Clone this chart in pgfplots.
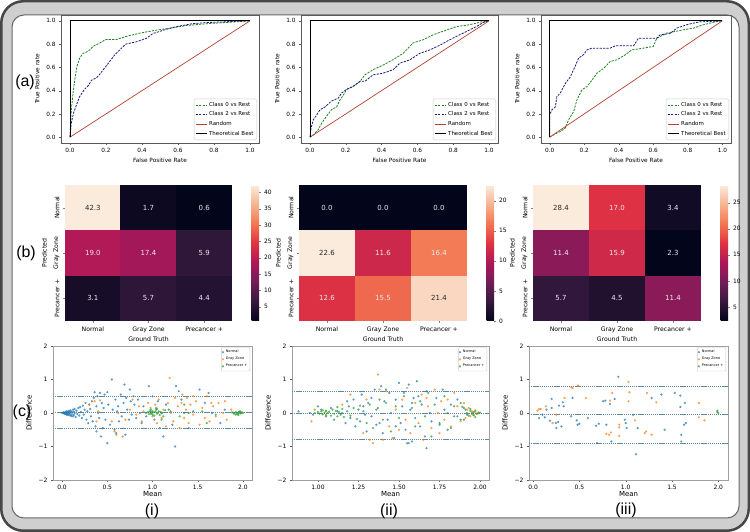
\documentclass[border=0pt]{standalone}
\usepackage{pgfplots}
\pgfplotsset{compat=1.18}
\usepackage{fontspec}
\setmainfont{DejaVu Sans}
\newfontfamily\lab{Liberation Sans}
\newcommand\fs[1]{\fontsize{#1}{#1}\selectfont}
\pgfkeys{/pgf/number format/assume math mode=true}
\definecolor{rocg}{RGB}{30,130,30}
\definecolor{rocb}{RGB}{25,25,125}
\definecolor{rocr}{RGB}{180,65,50}
\definecolor{cA}{RGB}{31,119,180}
\definecolor{cB}{RGB}{255,127,14}
\definecolor{cC}{RGB}{44,160,44}
\definecolor{bal}{RGB}{95,135,160}
\definecolor{spine}{RGB}{90,90,90}
% rocket colours of the cells
\definecolor{haa}{RGB}{24,13,41}
\definecolor{hab}{RGB}{46,22,57}
\definecolor{hac}{RGB}{35,18,49}
\definecolor{had}{RGB}{178,25,87}
\definecolor{hae}{RGB}{162,24,89}
\definecolor{haf}{RGB}{47,23,58}
\definecolor{hmax}{RGB}{250,235,221}
\definecolor{hah}{RGB}{12,9,33}
\definecolor{hmin}{RGB}{3,5,26}
\definecolor{hba}{RGB}{220,48,68}
\definecolor{hbb}{RGB}{239,105,78}
\definecolor{hbc}{RGB}{249,215,192}
\definecolor{hbe}{RGB}{204,40,75}
\definecolor{hbf}{RGB}{243,123,86}
\definecolor{hca}{RGB}{49,23,59}
\definecolor{hcb}{RGB}{33,17,47}
\definecolor{hcc}{RGB}{139,27,88}
\definecolor{hce}{RGB}{207,41,74}
\definecolor{hch}{RGB}{222,49,67}
\definecolor{hci}{RGB}{18,11,37}
\pgfdeclareplotmark{hcell}{\pgfpathrectangle{\pgfqpoint{-28.1bp}{-22.75bp}}{\pgfqpoint{56.2bp}{45.5bp}}\pgfusepathqfill}
\pgfplotsset{
 colormap={rocket}{rgb255(0)=(3,5,26) rgb255(1)=(53,25,62) rgb255(2)=(112,31,87) rgb255(3)=(173,23,89) rgb255(4)=(225,51,66) rgb255(5)=(243,118,81) rgb255(6)=(246,180,143) rgb255(7)=(250,235,221)},
 rocax/.style={scale only axis, height=128bp, anchor=south west,
  xmin=-0.05,xmax=1.05,ymin=-0.05,ymax=1.05,
  xtick={0,0.2,0.4,0.6,0.8,1.0}, ytick={0,0.2,0.4,0.6,0.8,1.0},
  tick label style={font=\fs{5.8}, /pgf/number format/.cd, fixed, fixed zerofill, precision=1, /tikz/.cd},
  label style={font=\fs{5.8}},
  xlabel={False Positive Rate}, ylabel={True Positive rate},
  xlabel style={yshift=2bp},
  tick align=outside, major tick length=2bp, xtick pos=left, ytick pos=left,
  axis line style={spine}, tick style={spine},
  legend style={font=\fs{5.5}, at={(0.99,0.023)}, anchor=south east, draw=gray!40, rounded corners=1.5bp, inner sep=1.2bp, row sep=0bp},
  legend cell align=left,
  legend image code/.code={\draw[##1] (0bp,0bp) -- (11bp,0bp);},
 },
 hm/.style={scale only axis, height=136bp, anchor=south west,
  xmin=-0.5,xmax=2.5,ymin=-0.5,ymax=2.5, axis line style={draw=none},
  xtick={0,1,2}, ytick={0,1,2},
  xticklabels={Normal,Gray Zone,Precancer +}, yticklabels={Precancer +,Gray Zone,Normal},
  yticklabel style={rotate=90,anchor=south},
  tick align=outside, major tick length=2bp, xtick pos=left, ytick pos=left,
  tick label style={font=\fs{6.2}}, label style={font=\fs{6.2}},
  xlabel={Ground Truth}, ylabel={Predicted}, xlabel style={yshift=2.5bp},
  colorbar,
 },
 cbs/.style={at={(parent axis.north east)}, anchor=north west, xshift=11bp, width=7.5bp,
   axis line style={draw=none}, major tick length=1.5bp, tick align=outside,
   yticklabel style={font=\fs{6}}, ytick pos=right, yticklabel pos=right},
 hcl/.style={scatter, only marks, mark=hcell, scatter src=explicit symbolic},
 hmw/.style={draw=none, mark=none, nodes near coords, point meta=explicit symbolic,
   nodes near coords style={anchor=center, font=\fs{7}, text=white!92!black}},
 hmd/.style={draw=none, mark=none, nodes near coords, point meta=explicit symbolic,
   nodes near coords style={anchor=center, font=\fs{7}, text=black!85}},
 ba/.style={scale only axis, height=134bp, anchor=south west, ymin=-2,ymax=2,
  ytick={-2,-1,0,1,2}, yticklabels={−2,−1,0,1,2},
  tick label style={font=\fs{6}}, label style={font=\fs{7}},
  xlabel={Mean}, ylabel={Difference}, xlabel style={yshift=5bp},
  tick align=outside, major tick length=2bp, xtick pos=left, ytick pos=left,
  axis line style={gray!75}, tick style={spine},
  legend style={font=\fs{3.5}, at={(0.99,0.99)}, anchor=north east, draw=gray!40, rounded corners=1bp, inner sep=0.6bp, row sep=-1bp},
  legend cell align=left,
  legend image code/.code={\draw[##1] plot coordinates {(2bp,0bp)};},
 },
 sA/.style={only marks, mark=*, mark size=0.95bp, cA, opacity=0.6},
 sB/.style={only marks, mark=*, mark size=0.95bp, cB, opacity=0.6},
 sC/.style={only marks, mark=*, mark size=0.95bp, cC, opacity=0.6},
 bl/.style={bal, dash pattern=on 1.3bp off 0.8bp, line width=0.6bp, forget plot},
 dg/.style={rocg, dash pattern=on 2.2bp off 1.2bp, line width=0.8bp},
 db/.style={rocb, dash pattern=on 2.2bp off 1.2bp, line width=0.8bp},
}
\begin{document}
\begin{tikzpicture}
\useasboundingbox (0,0) rectangle (750bp,532bp);
\fill[draw=black!72, line width=2.5bp, fill=black!19, rounded corners=22bp] (1.25bp,1.25bp) rectangle (748.75bp,530.75bp);
\filldraw[fill=white, draw=black!60, line width=1bp, rounded corners=12bp] (12bp,14bp) rectangle (739bp,517bp);

% ---------- ROC 1
\begin{axis}[rocax, at={(61bp,389bp)}, width=198bp]
\addplot[dg] coordinates {(0,0) (0.007,0.23) (0.017,0.38) (0.026,0.49) (0.039,0.61) (0.054,0.68) (0.072,0.72) (0.09,0.73) (0.11,0.75) (0.128,0.78) (0.165,0.81) (0.20,0.84) (0.26,0.84) (0.31,0.865) (0.39,0.895) (0.48,0.92) (0.57,0.94) (0.65,0.96) (0.76,0.975) (0.91,0.99) (1,1)};
\addplot[db] coordinates {(0,0) (0.007,0.12) (0.02,0.21) (0.039,0.29) (0.054,0.35) (0.08,0.41) (0.10,0.44) (0.12,0.49) (0.147,0.51) (0.165,0.54) (0.19,0.59) (0.22,0.65) (0.25,0.71) (0.276,0.75) (0.31,0.80) (0.37,0.82) (0.425,0.85) (0.46,0.89) (0.52,0.92) (0.59,0.95) (0.68,0.975) (0.76,0.985) (0.91,0.995) (1,1)};
\addplot[rocr, line width=0.7bp] coordinates {(0,0) (1,1)};
\addplot[black, line width=0.9bp] coordinates {(0,0) (0,1) (1,1)};
\legend{Class 0 vs Rest, Class 2 vs Rest, Random, Theoretical Best}
\end{axis}

% ---------- ROC 2
\begin{axis}[rocax, at={(301bp,389bp)}, width=197bp]
\addplot[dg] coordinates {(0,0) (0.019,0.02) (0.046,0.063) (0.065,0.12) (0.093,0.18) (0.12,0.235) (0.149,0.26) (0.167,0.32) (0.186,0.36) (0.204,0.41) (0.24,0.435) (0.28,0.48) (0.307,0.536) (0.353,0.58) (0.409,0.62) (0.465,0.667) (0.52,0.72) (0.576,0.81) (0.632,0.837) (0.688,0.88) (0.743,0.91) (0.818,0.95) (0.89,0.966) (0.967,0.994) (1,1)};
\addplot[db] coordinates {(0,0) (0.006,0.077) (0.019,0.15) (0.037,0.19) (0.056,0.235) (0.084,0.26) (0.12,0.31) (0.158,0.335) (0.176,0.378) (0.204,0.41) (0.24,0.435) (0.28,0.48) (0.307,0.48) (0.353,0.536) (0.409,0.55) (0.465,0.58) (0.502,0.636) (0.558,0.665) (0.613,0.72) (0.669,0.75) (0.725,0.79) (0.78,0.837) (0.855,0.894) (0.929,0.95) (0.967,0.986) (1,1)};
\addplot[rocr, line width=0.7bp] coordinates {(0,0) (1,1)};
\addplot[black, line width=0.9bp] coordinates {(0,0) (0,1) (1,1)};
\legend{Class 0 vs Rest, Class 2 vs Rest, Random, Theoretical Best}
\end{axis}

% ---------- ROC 3
\begin{axis}[rocax, at={(541bp,389bp)}, width=190bp]
\addplot[dg] coordinates {(0,0) (0.023,0.02) (0.062,0.049) (0.09,0.077) (0.11,0.15) (0.139,0.22) (0.158,0.32) (0.187,0.407) (0.216,0.435) (0.245,0.49) (0.274,0.55) (0.312,0.59) (0.35,0.65) (0.39,0.665) (0.437,0.707) (0.476,0.75) (0.543,0.765) (0.6,0.78) (0.62,0.85) (0.678,0.894) (0.775,0.923) (0.832,0.937) (0.89,0.966) (0.967,0.994) (1,1)};
\addplot[db] coordinates {(0,0) (0,0.19) (0.013,0.235) (0.033,0.26) (0.042,0.35) (0.062,0.38) (0.09,0.46) (0.12,0.52) (0.148,0.61) (0.168,0.68) (0.197,0.71) (0.216,0.75) (0.245,0.765) (0.35,0.765) (0.38,0.785) (0.486,0.785) (0.514,0.85) (0.62,0.85) (0.64,0.88) (0.697,0.89) (0.736,0.937) (0.794,0.966) (0.832,0.98) (0.87,0.991) (1,1)};
\addplot[rocr, line width=0.7bp] coordinates {(0,0) (1,1)};
\addplot[black, line width=0.9bp] coordinates {(0,0) (0,1) (1,1)};
\legend{Class 0 vs Rest, Class 2 vs Rest, Random, Theoretical Best}
\end{axis}

% ---------- Heatmap 1 (rocket colour of each cell for range 0.6 - 42.3)
\begin{axis}[hm, at={(65bp,211bp)}, width=167bp, point meta min=0.6, point meta max=42.3,
  colorbar style={cbs, ytick={5,10,15,20,25,30,35,40}}]
\addplot[hcl, scatter/classes={
  a={fill=haa}, b={fill=hab}, c={fill=hac},
  d={fill=had}, e={fill=hae}, f={fill=haf},
  g={fill=hmax}, h={fill=hah}, i={fill=hmin}}] table[meta=k] {
x y v k
0 0 3.1 a
1 0 5.7 b
2 0 4.4 c
0 1 19.0 d
1 1 17.4 e
2 1 5.9 f
0 2 42.3 g
1 2 1.7 h
2 2 0.6 i
};
\addplot[hmw] table[meta=t] {
x y t
0 0 3.1
1 0 5.7
2 0 4.4
0 1 19.0
1 1 17.4
2 1 5.9
1 2 1.7
2 2 0.6
};
\addplot[hmd] table[meta=t] {
x y t
0 2 42.3
};
\end{axis}

% ---------- Heatmap 2 (range 0 - 22.6)
\begin{axis}[hm, at={(299bp,211bp)}, width=168bp, point meta min=0, point meta max=22.6,
  colorbar style={cbs, ytick={0,5,10,15,20}}]
\addplot[hcl, scatter/classes={
  a={fill=hba}, b={fill=hbb}, c={fill=hbc},
  d={fill=hmax}, e={fill=hbe}, f={fill=hbf},
  g={fill=hmin}}] table[meta=k] {
x y v k
0 0 12.6 a
1 0 15.5 b
2 0 21.4 c
0 1 22.6 d
1 1 11.6 e
2 1 16.4 f
0 2 0.0 g
1 2 0.0 g
2 2 0.0 g
};
\addplot[hmw] table[meta=t] {
x y t
0 0 12.6
1 0 15.5
1 1 11.6
2 1 16.4
0 2 0.0
1 2 0.0
2 2 0.0
};
\addplot[hmd] table[meta=t] {
x y t
2 0 21.4
0 1 22.6
};
\end{axis}

% ---------- Heatmap 3 (range 2.3 - 28.4)
\begin{axis}[hm, at={(533bp,211bp)}, width=168bp, point meta min=2.3, point meta max=28.4,
  colorbar style={cbs, ytick={5,10,15,20,25}}]
\addplot[hcl, scatter/classes={
  a={fill=hca}, b={fill=hcb}, c={fill=hcc},
  d={fill=hcc}, e={fill=hce}, f={fill=hmin},
  g={fill=hmax}, h={fill=hch}, i={fill=hci}}] table[meta=k] {
x y v k
0 0 5.7 a
1 0 4.5 b
2 0 11.4 c
0 1 11.4 d
1 1 15.9 e
2 1 2.3 f
0 2 28.4 g
1 2 17.0 h
2 2 3.4 i
};
\addplot[hmw] table[meta=t] {
x y t
0 0 5.7
1 0 4.5
2 0 11.4
0 1 11.4
1 1 15.9
2 1 2.3
1 2 17.0
2 2 3.4
};
\addplot[hmd] table[meta=t] {
x y t
0 2 28.4
};
\end{axis}

% ---------- Bland-Altman 1
\begin{axis}[ba, at={(53bp,52bp)}, width=199bp, xmin=-0.1, xmax=2.1,
  xtick={0,0.5,1,1.5,2}, xticklabel style={/pgf/number format/.cd, fixed, fixed zerofill, precision=1, /tikz/.cd}]
\addplot[sA] coordinates {(0.00,0.00) (0.01,0.01) (0.02,-0.01) (0.02,0.02) (0.03,0.00) (0.03,-0.03) (0.04,0.03) (0.04,-0.02) (0.05,0.05) (0.05,0.00) (0.05,-0.05) (0.06,0.02) (0.06,-0.04) (0.07,0.06) (0.07,0.00) (0.07,-0.06) (0.08,0.03) (0.08,-0.03) (0.09,0.08) (0.09,-0.07) (0.09,0.01) (0.10,0.05) (0.10,-0.09) (0.11,0.02) (0.11,-0.04) (0.12,0.10) (0.12,-0.10) (0.13,0.04) (0.13,-0.06) (0.14,0.12) (0.14,0.00) (0.15,-0.12) (0.16,0.07) (0.17,-0.03) (0.18,0.15) (0.19,-0.08) (0.20,0.18) (0.21,0.03) (0.22,-0.15) (0.23,0.22) (0.24,-0.05) (0.25,0.10) (0.26,0.30) (0.27,-0.20) (0.28,0.05) (0.29,-0.30) (0.30,0.25) (0.31,0.12) (0.32,-0.10) (0.33,0.35) (0.34,-0.25) (0.35,0.45) (0.36,0.62) (0.37,-0.40) (0.38,0.20) (0.38,-0.55) (0.39,0.50) (0.40,0.00) (0.41,-0.15) (0.42,0.60) (0.43,-0.70) (0.44,0.30) (0.45,-0.45) (0.46,0.15) (0.47,0.55) (0.48,-0.20) (0.50,0.62) (0.50,-0.90) (0.51,0.25) (0.53,-0.35) (0.55,1.00) (0.56,0.10) (0.58,-0.50) (0.59,0.40) (0.60,-0.60) (0.61,0.05) (0.62,0.20) (0.63,-0.25) (0.65,0.55) (0.66,-0.10) (0.68,0.30) (0.69,0.85) (0.70,-0.65) (0.71,0.45) (0.72,0.10) (0.74,-0.20) (0.75,0.70) (0.76,0.35) (0.77,-0.05) (0.79,0.50) (0.80,0.25) (0.82,-0.15) (0.84,0.40) (0.86,0.00) (0.88,-0.30) (0.90,0.20) (0.93,-0.10) (0.96,0.80) (0.98,0.05) (1.00,0.50) (1.02,-0.20) (1.04,0.15) (1.06,0.35) (1.08,-0.45) (1.10,0.00) (1.12,-0.70) (1.15,0.25) (1.18,0.10) (1.22,-0.35) (1.25,-1.00) (1.26,0.80) (1.29,0.65) (1.32,0.40) (1.35,0.00) (1.40,-0.45) (1.45,0.05) (1.52,0.70) (1.58,0.30) (1.62,0.60) (1.66,0.00) (1.75,-0.30) (1.80,0.10) (1.90,0.00) (1.95,0.02)};
\addplot[sB] coordinates {(0.30,0.25) (0.36,0.35) (0.38,-0.25) (0.40,0.05) (0.42,0.38) (0.55,-0.25) (0.58,-0.55) (0.60,-0.65) (0.62,0.00) (0.67,-0.70) (0.70,-0.20) (0.75,0.10) (0.78,0.40) (0.82,-0.05) (0.85,0.20) (0.88,-0.25) (0.90,0.05) (0.95,0.30) (0.98,0.15) (1.00,-0.10) (1.03,0.25) (1.05,-0.30) (1.07,0.40) (1.10,-0.15) (1.12,0.10) (1.15,-0.40) (1.17,0.30) (1.19,1.05) (1.20,0.00) (1.23,-0.25) (1.25,0.45) (1.28,0.20) (1.30,-0.45) (1.32,0.30) (1.33,0.55) (1.35,-0.15) (1.37,0.10) (1.38,0.45) (1.40,-0.30) (1.42,0.25) (1.45,-0.05) (1.48,0.35) (1.52,-0.35) (1.55,0.15) (1.58,-0.15) (1.60,0.50) (1.63,-0.25) (1.67,0.20) (1.70,-0.10) (1.73,0.30) (1.78,0.00) (1.82,-0.20) (1.87,0.10) (1.80,0.35) (1.65,0.30) (1.45,0.50)};
\addplot[sC] coordinates {(0.93,0.00) (0.95,0.03) (0.96,-0.03) (0.97,0.05) (0.98,-0.02) (0.99,0.00) (1.00,0.06) (1.00,-0.05) (1.01,0.02) (1.02,-0.08) (1.03,0.04) (1.04,0.10) (1.05,-0.02) (1.06,0.01) (1.07,0.05) (1.08,-0.06) (1.09,0.03) (1.10,0.00) (1.12,-0.10) (1.14,0.08) (0.98,0.10) (1.05,0.12) (1.10,-0.20) (1.20,0.05) (1.30,-0.10) (1.40,0.00) (1.55,0.05) (1.70,-0.05) (1.88,0.02) (1.90,-0.02) (1.92,0.03) (1.93,0.00) (1.94,-0.03) (1.95,0.01) (1.96,0.04) (1.97,-0.01) (1.98,0.00) (1.99,0.02) (2.00,0.00) (1.92,-0.05) (1.95,-0.06) (1.97,0.05) (1.60,-0.30) (1.35,0.25)};
\addplot[bl] coordinates {(-0.1,0.49) (2.1,0.49)};
\addplot[bl] coordinates {(-0.1,0.01) (2.1,0.01)};
\addplot[bl] coordinates {(-0.1,-0.47) (2.1,-0.47)};
\legend{Normal, Gray Zone, Precancer +}
\end{axis}

% ---------- Bland-Altman 2
\begin{axis}[ba, at={(292bp,52bp)}, width=197bp, xmin=0.84, xmax=2.055,
  xtick={1,1.25,1.5,1.75,2}, xticklabel style={/pgf/number format/.cd, fixed, fixed zerofill, precision=2, /tikz/.cd}]
\addplot[sA] coordinates {(0.88,0.05) (0.95,0.00) (0.97,-0.05) (1.00,0.20) (1.02,0.10) (1.05,-0.10) (1.08,0.15) (1.10,-0.20) (1.12,0.05) (1.15,0.00) (1.17,-0.30) (1.18,0.35) (1.20,-0.15) (1.22,0.40) (1.23,-0.40) (1.25,0.10) (1.26,-0.25) (1.27,0.55) (1.28,0.20) (1.30,-0.55) (1.31,0.30) (1.33,-0.10) (1.35,0.70) (1.36,-0.35) (1.37,0.15) (1.39,0.80) (1.40,-0.60) (1.41,0.35) (1.43,-0.20) (1.44,0.60) (1.45,0.00) (1.47,-0.75) (1.48,0.40) (1.50,0.90) (1.51,-0.30) (1.52,0.20) (1.53,0.60) (1.54,-0.50) (1.56,0.85) (1.57,0.10) (1.58,-0.85) (1.59,0.45) (1.60,-0.15) (1.62,0.50) (1.63,-0.40) (1.64,0.25) (1.66,-0.70) (1.67,0.65) (1.67,-1.05) (1.69,0.00) (1.70,-0.25) (1.73,0.45) (1.75,-0.30) (1.77,0.70) (1.78,0.10) (1.80,-0.50) (1.82,0.25) (1.84,-0.10) (1.86,0.40) (1.88,-0.20) (1.90,0.15) (1.92,-0.05) (1.95,0.00) (1.42,0.70) (1.33,0.45) (1.55,-0.90) (1.61,0.95) (1.48,-0.40) (1.38,-0.30) (1.29,-0.05) (1.19,0.20) (1.58,0.30)};
\addplot[sB] coordinates {(0.96,-0.25) (0.98,0.10) (1.05,0.05) (1.15,0.25) (1.20,0.55) (1.28,-0.60) (1.30,0.40) (1.32,-0.80) (1.34,-0.90) (1.37,1.15) (1.38,0.70) (1.40,-0.80) (1.42,0.65) (1.44,-0.40) (1.46,-0.75) (1.48,0.10) (1.50,-0.50) (1.52,0.40) (1.54,-0.20) (1.55,0.75) (1.57,-0.60) (1.60,0.30) (1.62,-0.30) (1.64,0.55) (1.65,-0.80) (1.67,0.45) (1.68,0.20) (1.70,-0.45) (1.72,0.70) (1.74,0.00) (1.75,-0.60) (1.76,0.35) (1.78,-0.20) (1.80,0.40) (1.82,-0.40) (1.84,0.60) (1.86,0.20) (1.88,-0.25) (1.90,0.30) (1.92,0.10) (1.94,-0.10) (1.95,0.05) (1.96,-0.05) (1.97,0.08) (1.98,-0.03) (1.99,0.02) (1.93,0.15) (1.91,-0.15)};
\addplot[sC] coordinates {(0.98,0.00) (1.00,0.03) (1.01,-0.02) (1.02,0.05) (1.03,-0.04) (1.04,0.01) (1.05,0.07) (1.05,-0.06) (1.06,0.00) (1.07,0.04) (1.08,-0.08) (1.09,0.10) (1.10,-0.02) (1.11,0.06) (1.12,-0.10) (1.13,0.03) (1.14,-0.05) (1.15,0.12) (1.16,-0.12) (1.18,0.05) (1.20,-0.08) (1.22,0.15) (1.24,-0.18) (1.26,0.22) (1.28,0.05) (1.30,-0.30) (1.32,0.25) (1.34,-0.45) (1.36,0.10) (1.38,0.40) (1.40,-0.20) (1.42,0.30) (1.45,-0.55) (1.48,0.20) (1.50,-0.15) (1.53,0.50) (1.56,-0.90) (1.58,0.15) (1.60,-0.40) (1.63,0.35) (1.66,-0.10) (1.68,0.60) (1.70,-0.70) (1.72,0.25) (1.75,-0.35) (1.78,0.50) (1.80,0.00) (1.82,-0.45) (1.84,0.20) (1.86,-0.10) (1.88,0.30) (1.90,-0.20) (1.91,0.10) (1.92,0.00) (1.93,-0.08) (1.94,0.06) (1.95,-0.03) (1.96,0.02) (1.97,0.05) (1.98,-0.02) (1.99,0.00) (2.00,0.01) (1.96,-0.07) (1.94,0.12) (1.97,-0.12) (1.89,0.18) (1.12,0.18) (1.03,0.08)};
\addplot[bl] coordinates {(0.84,0.66) (2.055,0.66)};
\addplot[bl] coordinates {(0.84,0.00) (2.055,0.00)};
\addplot[bl] coordinates {(0.84,-0.79) (2.055,-0.79)};
\legend{Normal, Gray Zone, Precancer +}
\end{axis}

% ---------- Bland-Altman 3
\begin{axis}[ba, at={(529bp,52bp)}, width=199bp, xmin=-0.045, xmax=2.105,
  xtick={0,0.5,1,1.5,2}, xticklabel style={/pgf/number format/.cd, fixed, fixed zerofill, precision=1, /tikz/.cd}]
\addplot[sA] coordinates {(0.065,-0.15) (0.10,-0.05) (0.126,-0.13) (0.144,0.10) (0.18,-0.23) (0.20,0.42) (0.20,0.15) (0.245,-0.30) (0.25,-0.45) (0.27,-0.27) (0.28,0.22) (0.305,-0.40) (0.32,0.32) (0.33,0.20) (0.41,-0.10) (0.425,0.45) (0.47,-0.22) (0.48,-0.35) (0.50,-0.32) (0.59,-0.15) (0.68,-0.38) (0.69,-0.90) (0.71,-0.32) (0.755,0.35) (0.78,0.37) (0.79,-0.35) (0.83,0.27) (0.845,-0.85) (0.88,0.42) (0.92,1.08) (0.99,-0.20) (1.00,-0.30) (1.01,-0.45) (1.08,-0.05) (1.11,-1.23) (1.13,-0.45) (1.28,0.45) (1.385,0.55) (1.42,-0.50) (1.53,0.60) (1.59,0.52) (1.59,0.18) (1.60,-0.65) (1.63,-0.35) (1.64,0.30) (1.65,-0.30)};
\addplot[sB] coordinates {(0.047,0.07) (0.065,0.12) (0.08,0.12) (0.137,0.20) (0.21,-0.30) (0.25,-0.05) (0.34,0.45) (0.41,0.77) (0.425,0.75) (0.485,0.82) (0.57,0.45) (0.79,-0.62) (0.82,-0.65) (0.84,-0.58) (0.855,0.60) (0.83,0.37) (0.93,-0.35) (0.93,-0.43) (0.93,-0.68) (1.03,0.93) (1.03,0.35) (1.04,0.62) (1.10,-0.22) (1.205,-0.60) (1.22,-0.55) (1.23,0.60) (1.28,-0.65) (1.33,0.32) (1.79,0.30) (1.79,-0.13) (1.85,-0.22)};
\addplot[sC] coordinates {(1.99,0.07) (2.00,0.00) (1.99,0.03) (1.60,-0.85)};
\addplot[bl] coordinates {(-0.045,0.80) (2.105,0.80)};
\addplot[bl] coordinates {(-0.045,-0.03) (2.105,-0.03)};
\addplot[bl] coordinates {(-0.045,-0.90) (2.105,-0.90)};
\legend{Normal, Gray Zone, Precancer +}
\end{axis}

% ---------- panel labels
\node[font=\lab\fs{16}] at (25bp,450bp) {(a)};
\node[font=\lab\fs{16}] at (26bp,279bp) {(b)};
\node[font=\lab\fs{16}] at (22bp,120bp) {(c)};
\node[font=\lab\fs{16}] at (152bp,21bp) {(i)};
\node[font=\lab\fs{16}] at (389bp,21bp) {(ii)};
\node[font=\lab\fs{16}] at (626bp,22bp) {(iii)};
\end{tikzpicture}
\end{document}
